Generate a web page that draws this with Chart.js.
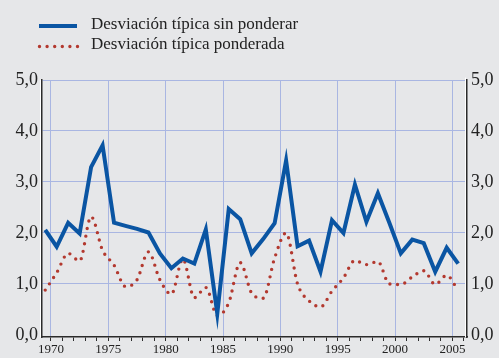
<!DOCTYPE html>
<html>
<head>
<meta charset="utf-8">
<script src="https://cdn.jsdelivr.net/npm/chart.js@4.4.0/dist/chart.umd.min.js"></script>
<style>
    html, body { margin: 0; padding: 0; background: #e6e7e9; }
    #wrap { width: 499px; height: 358px; }
</style>
</head>
<body>
<div id="wrap"><canvas id="canvas-chart"></canvas></div>
<script>
'use strict'

let years = [1970, 1971, 1972, 1973, 1974, 1975, 1976, 1977, 1978, 1979,
    1980, 1981, 1982, 1983, 1984, 1985, 1986, 1987, 1988, 1989,
    1990, 1991, 1992, 1993, 1994, 1995, 1996, 1997, 1998, 1999,
    2000, 2001, 2002, 2003, 2004, 2005, 2006];

let sinPonderar = [2.06, 1.73, 2.20, 1.99, 3.29, 3.72, 2.20, 2.14, 2.08, 2.01,
    1.60, 1.31, 1.50, 1.40, 2.07, 0.42, 2.47, 2.27, 1.60, 1.88,
    2.19, 3.42, 1.74, 1.85, 1.24, 2.25, 2.00, 2.95, 2.22, 2.78,
    2.20, 1.60, 1.87, 1.80, 1.24, 1.71, 1.40];

let ponderada = [0.88, 1.22, 1.60, 1.45, 2.32, 1.66, 1.37, 0.95, 1.08, 1.63,
    1.08, 0.80, 1.49, 0.73, 0.93, 0.38, 0.63, 1.42, 0.82, 0.72,
    1.51, 2.00, 1.00, 0.67, 0.55, 0.86, 1.12, 1.46, 1.38, 1.44,
    1.00, 0.99, 1.14, 1.26, 0.99, 1.17, 0.87];

let yTicks = [0, 1, 2, 3, 4, 5];

let seriesNames = ["Desviación típica sin ponderar", "Desviación típica ponderada"];

let blue = "#0a55a3";
let red = "#b3392f";
let gridBlue = "#a9b6e2";
let axisDark = "#2b2b2b";
let serif = "'Liberation Serif', 'Times New Roman', serif";

// each yearly value sits in the middle of its year interval
function toPoints(values) {
    return values.map(function (v, i) {
        return { x: years[i] - 0.5, y: v };
    });
}

function fmt(v) {
    return v.toFixed(1).replace(".", ",");
}

let legendPlugin = {
    id: "sideLegend",
    afterDraw: function (c) {
        let ctx = c.ctx;
        ctx.save();
        // solid sample
        ctx.strokeStyle = blue;
        ctx.lineWidth = 4;
        ctx.beginPath();
        ctx.moveTo(39, 26);
        ctx.lineTo(77, 26);
        ctx.stroke();
        // dotted sample
        ctx.strokeStyle = red;
        ctx.lineWidth = 3.4;
        ctx.lineCap = "round";
        ctx.setLineDash([0, 7.6]);
        ctx.beginPath();
        ctx.moveTo(39.5, 46.5);
        ctx.lineTo(78, 46.5);
        ctx.stroke();
        ctx.setLineDash([]);

        ctx.fillStyle = "#222";
        ctx.font = "17px " + serif;
        ctx.textBaseline = "middle";
        ctx.fillText(seriesNames[0], 91, 25);
        ctx.fillText(seriesNames[1], 91, 45);

        // light edge beside the axis lines
        let a = c.chartArea;
        ctx.strokeStyle = "#ffffff";
        ctx.lineWidth = 1;
        ctx.beginPath();
        ctx.moveTo(a.left - 1.5, a.top);
        ctx.lineTo(a.left - 1.5, a.bottom);
        ctx.moveTo(a.right - 1.5, a.top - 2);
        ctx.lineTo(a.right - 1.5, a.bottom);
        ctx.stroke();
        ctx.restore();
    },
};

let chart = document.getElementById("canvas-chart").getContext("2d");

let chart1 = new Chart(chart, {
    type: "line",
    data: {
        datasets: [
            {
                label: seriesNames[0],
                data: toPoints(sinPonderar),
                borderColor: blue,
                borderWidth: 4,
                borderJoinStyle: "miter",
                pointRadius: 0,
                tension: 0,
                yAxisID: "y",
            },
            {
                label: seriesNames[1],
                data: toPoints(ponderada),
                borderColor: red,
                borderWidth: 3.4,
                borderDash: [0, 7.6],
                borderCapStyle: "round",
                pointRadius: 0,
                cubicInterpolationMode: "monotone",
                yAxisID: "y",
            },
        ],
    },
    options: {
        responsive: true,
        maintainAspectRatio: false,
        animation: false,
        layout: { padding: { top: 80, left: 0, right: 0, bottom: 0 } },
        plugins: {
            legend: { display: false },
            tooltip: { enabled: false },
        },
        scales: {
            x: {
                type: "linear",
                min: 1969.22,
                max: 2006.27,
                afterBuildTicks: function (scale) {
                    scale.ticks = years.map(function (y) { return { value: y }; });
                },
                afterFit: function (scale) { scale.height = 21; },
                grid: {
                    color: function (ctx) {
                        return ctx.tick && ctx.tick.value % 5 === 0 ? gridBlue : "rgba(0,0,0,0)";
                    },
                    tickColor: axisDark,
                    tickLength: 4,
                    lineWidth: 1,
                },
                border: { color: axisDark, width: 1.5 },
                ticks: {
                    autoSkip: false,
                    maxRotation: 0,
                    padding: 1,
                    color: "#222",
                    font: { family: serif, size: 13 },
                    callback: function (v) { return v % 5 === 0 ? String(v) : ""; },
                },
            },
            y: {
                position: "left",
                min: -0.04,
                max: 5,
                afterBuildTicks: function (scale) {
                    scale.ticks = yTicks.map(function (v) { return { value: v }; });
                },
                afterFit: function (scale) { scale.width = 42; },
                grid: {
                    color: function (ctx) {
                        return ctx.tick && ctx.tick.value === 0 ? "rgba(0,0,0,0)" : gridBlue;
                    },
                    drawTicks: false,
                },
                border: { color: axisDark, width: 1.5 },
                ticks: {
                    padding: 4,
                    color: "#222",
                    font: { family: serif, size: 18 },
                    callback: function (v) { return fmt(v); },
                },
            },
            y2: {
                position: "right",
                min: -0.04,
                max: 5,
                afterBuildTicks: function (scale) {
                    scale.ticks = yTicks.map(function (v) { return { value: v }; });
                },
                afterFit: function (scale) { scale.width = 32; },
                grid: { drawOnChartArea: false, drawTicks: false },
                border: { color: axisDark, width: 1.5 },
                ticks: {
                    padding: 4,
                    color: "#222",
                    font: { family: serif, size: 18 },
                    callback: function (v) { return fmt(v); },
                },
            },
        },
    },
    plugins: [legendPlugin],
});
</script>
</body>
</html>
